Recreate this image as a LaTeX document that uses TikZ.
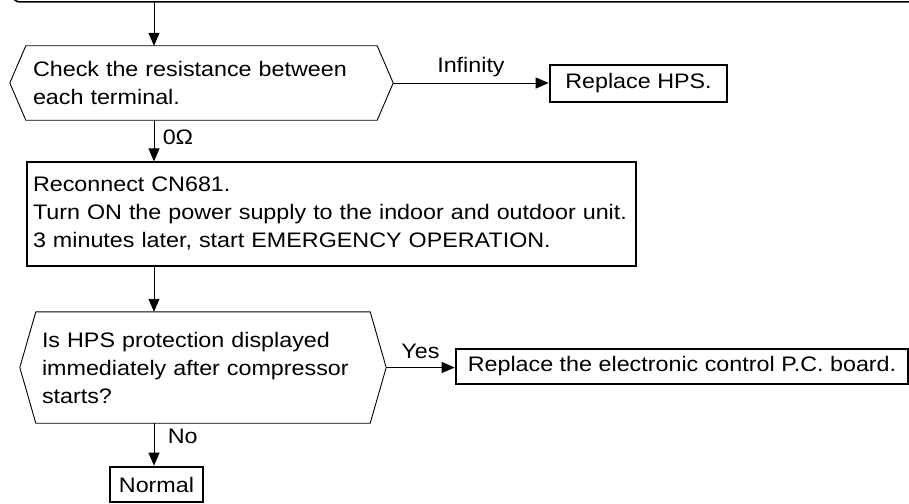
\documentclass[tikz,border=0pt]{standalone}
\usepackage{fontspec}
\setmainfont{Liberation Sans}[FakeStretch=1.11]
\usetikzlibrary{arrows.meta}

\tikzset{
  flow/.style={-{Triangle[length=13pt,width=11pt]}, line width=0.9pt},
  hexbox/.style={inner xsep=7pt, inner ysep=0pt, align=left},
  resultbox/.style={draw, line width=2.6pt, inner sep=0pt},
}

\begin{document}
\begin{tikzpicture}[x=1pt, y=-1pt, every node/.style={font=\fontsize{21}{28}\selectfont}]
  \useasboundingbox (0,0) rectangle (909,503);

  % top box (only its lower edge shows)
  \draw[line width=1.5pt, rounded corners=8pt] (12,-20) -- (12,2) -- (930,2);
  \coordinate (top) at (154,2);

  % first check
  \node[hexbox, minimum width=351pt, minimum height=74pt, text width=337pt] (check) at (201.5,83)
    {Check the resistance between\\each terminal.};
  \draw[line width=0.9pt] (check.north west) -- (check.north east) -- ([xshift=16pt]check.east)
    -- (check.south east) -- (check.south west) -- ([xshift=-16pt]check.west) -- cycle;
  \coordinate (checkR) at ([xshift=16pt]check.east);
  \node[resultbox, minimum width=177pt, minimum height=37pt] (hps) at (638.5,83.5) {Replace HPS.};

  % reconnect
  \node[draw, line width=1.2pt, inner xsep=6pt, minimum width=609pt, minimum height=104pt,
        text width=597pt, align=left] (reconnect) at (331.5,214)
    {Reconnect CN681.\\Turn ON the power supply to the indoor and outdoor unit.\\3 minutes later, start EMERGENCY OPERATION.};

  % second check
  \node[hexbox, inner xsep=6pt, minimum width=334pt, minimum height=111pt, text width=322pt] (hpsq) at (203,367.5)
    {Is HPS protection displayed\\immediately after compressor\\starts?};
  \draw[line width=0.9pt] (hpsq.north west) -- (hpsq.north east) -- ([xshift=16pt]hpsq.east)
    -- (hpsq.south east) -- (hpsq.south west) -- ([xshift=-16pt]hpsq.west) -- cycle;
  \coordinate (hpsqR) at ([xshift=16pt]hpsq.east);
  \node[resultbox, minimum width=452pt, minimum height=35pt] (board) at (682,366.5)
    {Replace the electronic control P.C. board.};
  \node[resultbox, minimum width=93pt, minimum height=35pt] (normal) at (156.5,484.5) {Normal};

  % arrows
  \draw[flow] (top) -- (check.north -| top);
  \draw[flow] (checkR) -- node[above=2.5pt] {Infinity} (checkR -| hps.west);
  \draw[flow] (check.south -| top) -- node[right=5pt, pos=0.42] {0Ω} (reconnect.north -| top);
  \draw[flow] (reconnect.south -| top) -- (hpsq.north -| top);
  \draw[flow] (hpsqR) -- node[above=5pt] {Yes} (hpsqR -| board.west);
  \draw[flow] (hpsq.south -| top) -- node[right=10pt, pos=0.3] {No} (normal.north -| top);
\end{tikzpicture}
\end{document}
